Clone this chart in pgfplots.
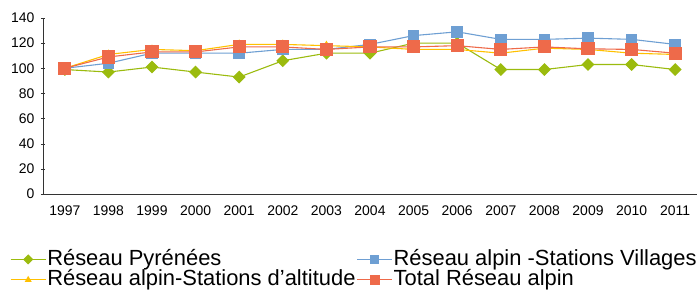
\documentclass[border=0pt]{standalone}
\usepackage{pgfplots}
\pgfplotsset{compat=1.18}
\usepackage{fontspec}
\setmainfont{Liberation Sans}
\definecolor{cgreen}{HTML}{9BBB0E}
\definecolor{cblue}{HTML}{6E9FD3}
\definecolor{cyellow}{HTML}{FFC000}
\definecolor{cred}{HTML}{EE6A4A}
\begin{document}
\begin{tikzpicture}
\begin{axis}[
  scale only axis,
  width=654bp, height=176bp,
  xmin=-0.5, xmax=14.5,
  ymin=0, ymax=140,
  ytick={0,20,...,140},
  xtick={0,...,14},
  xticklabels={1997,1998,1999,2000,2001,2002,2003,2004,2005,2006,2007,2008,2009,2010,2011},
  minor xtick={-0.5,0.5,...,14.5},
  xtick style={draw=none},
  tick align=outside,
  major tick length=4bp,
  minor tick length=4bp,
  axis x line=bottom, axis y line=left,
  axis line style={-, black!80},
  every tick/.style={black!80},
  ticklabel style={font=\fontsize{14}{16}\selectfont},
  /pgf/number format/assume math mode=true,
  xticklabel style={yshift=-6bp},
  yticklabel style={xshift=-3bp},
  legend columns=2,
  legend cell align=left,
  legend style={draw=none, fill=none, at={(-0.0505,-0.3125)}, anchor=north west,
    font=\fontsize{22}{23}\selectfont, inner sep=0pt, row sep=0pt,
    nodes={inner sep=1bp, text height=15bp, text depth=3.5bp},
    /tikz/every odd column/.style={column sep=0pt},
    legend image code/.code={\draw[mark repeat=2,mark phase=2,every mark/.append style={scale=0.75}] plot coordinates {(0bp,0bp) (17.5bp,0bp) (35bp,0bp)};}},
  every axis plot/.append style={line width=1.1pt},
]
\addplot[color=cgreen, mark=square*, mark size=4bp, mark options={rotate=45, fill=cgreen}] coordinates {
(0,99) (1,97) (2,101) (3,97) (4,93) (5,106) (6,112) (7,112) (8,120) (9,120) (10,99) (11,99) (12,103) (13,103) (14,99)};
\addlegendentry{Réseau Pyrénées}
\addplot[color=cblue, mark=square*, mark size=5.3bp, mark options={fill=cblue}] coordinates {
(0,100) (1,104) (2,112) (3,112) (4,112) (5,115) (6,115) (7,119) (8,126) (9,129) (10,123) (11,123) (12,124) (13,123) (14,119)};
\addlegendentry{Réseau alpin -Stations Villages}
\addplot[color=cyellow, mark=triangle*, mark size=4bp, mark options={fill=cyellow}] coordinates {
(0,100) (1,111) (2,115) (3,114) (4,119) (5,119) (6,118) (7,117) (8,115) (9,115) (10,112) (11,116) (12,115) (13,112) (14,111)};
\addlegendentry{Réseau alpin-Stations d'altitude}
\addplot[color=cred, mark=square*, mark size=6bp, mark options={fill=cred}] coordinates {
(0,100) (1,109) (2,113) (3,113) (4,117) (5,117) (6,115) (7,117) (8,117) (9,118) (10,115) (11,117) (12,115.5) (13,115) (14,112)};
\addlegendentry{Total Réseau alpin}
\end{axis}
\pgfresetboundingbox
\path[use as bounding box] (-43bp,-97bp) rectangle (655bp,194bp);
\end{tikzpicture}
\end{document}
